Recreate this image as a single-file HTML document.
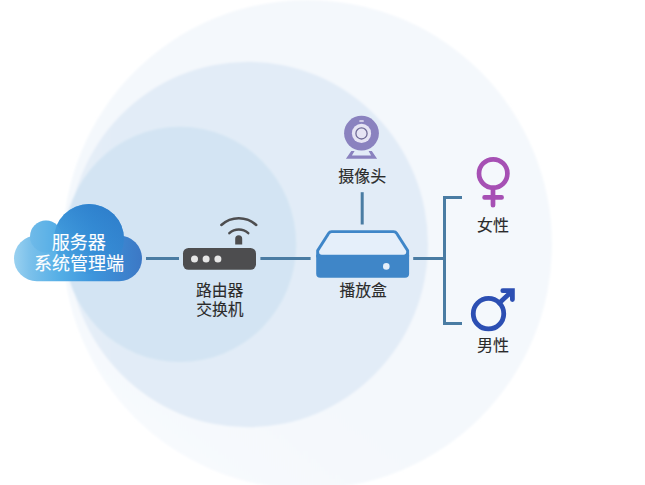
<!DOCTYPE html>
<html><head><meta charset="utf-8"><title>网络拓扑示意图</title>
<style>
html,body{margin:0;padding:0;background:#fff;}
body{width:645px;height:485px;overflow:hidden;font-family:"Liberation Sans",sans-serif;}
svg{display:block;}
</style></head><body>
<svg width="645" height="485" viewBox="0 0 645 485">
<defs>
<linearGradient id="cg" gradientUnits="userSpaceOnUse" x1="14" y1="0" x2="142" y2="0">
<stop offset="0" stop-color="#9ad1f0"/>
<stop offset="0.12" stop-color="#7cc1eb"/>
<stop offset="0.36" stop-color="#54aee6"/>
<stop offset="0.62" stop-color="#3d95dc"/>
<stop offset="1" stop-color="#3c78c5"/>
</linearGradient>
<linearGradient id="cg2" gradientUnits="userSpaceOnUse" x1="70" y1="274" x2="100" y2="204">
<stop offset="0" stop-color="#3a94da" stop-opacity="0.2"/>
<stop offset="0.5" stop-color="#3088d2" stop-opacity="0.6"/>
<stop offset="1" stop-color="#2d7ecb" stop-opacity="0.9"/>
</linearGradient>
<linearGradient id="g3" gradientUnits="userSpaceOnUse" x1="100" y1="480" x2="300" y2="200">
<stop offset="0" stop-color="#fafcfe"/><stop offset="0.3" stop-color="#f6f9fd"/><stop offset="0.6" stop-color="#f4f8fc"/>
</linearGradient>
<linearGradient id="g2" gradientUnits="userSpaceOnUse" x1="68" y1="0" x2="300" y2="0">
<stop offset="0" stop-color="#e7eff8"/><stop offset="0.2" stop-color="#e2ecf7"/><stop offset="1" stop-color="#e2ecf7"/>
</linearGradient>
<filter id="soft" x="-5%" y="-5%" width="110%" height="110%"><feGaussianBlur stdDeviation="0.8"/></filter>
</defs>

<rect width="645" height="485" fill="#ffffff"/>
<g filter="url(#soft)">
<circle cx="307.5" cy="244.5" r="244.5" fill="url(#g3)"/>
<ellipse cx="248" cy="244.5" rx="180" ry="182.8" fill="url(#g2)"/>
<ellipse cx="180" cy="244.4" rx="116.2" ry="117.7" fill="#d3e4f3"/>
</g>
<g fill="#4a7ca3">
<rect x="146" y="257" width="33" height="3"/>
<rect x="260.4" y="257" width="50.2" height="3"/>
<rect x="413.2" y="257" width="31" height="3"/>
<rect x="360.7" y="192.2" width="3" height="32.3"/>
<rect x="443" y="196" width="3" height="129"/>
<rect x="443" y="196" width="19" height="3"/>
<rect x="443" y="322" width="19" height="3"/>
</g>
<g fill="url(#cg)">
<rect x="14" y="235.6" width="128" height="45.6" rx="22.8"/>
<circle cx="89" cy="239" r="35"/>
<circle cx="46" cy="236.5" r="16"/>
</g>
<circle cx="89" cy="239" r="35" fill="url(#cg2)"/>
<circle cx="46" cy="236.5" r="16" fill="#4aa6e2" opacity="0.25"/>
<g fill="#4d4d4f">
<rect x="183" y="248" width="73" height="21.8" rx="5.5"/>
<path d="M235.2 244.5v-5.8a3.5 3.5 0 0 1 7 0v5.8z"/>
</g>
<g fill="none" stroke="#4d4d4f" stroke-width="2.5" stroke-linecap="round">
<path d="M221.37 224.98A25.8 25.8 0 0 1 256.23 224.98"/>
<path d="M229.35 233.13A14.4 14.4 0 0 1 248.25 233.13"/>
</g>
<g fill="#e6e6e6"><circle cx="194.5" cy="258.9" r="3.5"/><circle cx="206.1" cy="258.9" r="3.5"/><circle cx="217.9" cy="258.9" r="3.5"/></g>
<path fill="#3f86c8" stroke="#3f86c8" stroke-width="2.9" stroke-linejoin="round" d="M331.6 231.65h62q2 0 3 1.6l11.05 17.2v6h-90v-6l11.05-17.2q1-1.6 2.9-1.6z"/>
<path fill="#3f86c8" d="M316.2 254.7h92.9v19q0 4.1-4.1 4.1h-84.7q-4.1 0-4.1-4.1z"/>
<path fill="#e5effa" d="M332 233.1H393.2Q394.7 233.1 395.5 234.2L406.2 250.9V252Q406.2 254.7 403.5 254.7H321.8Q319.1 254.7 319.1 252V250.9L329.8 234.2Q330.6 233.1 332 233.1Z"/>
<circle cx="386.3" cy="266.4" r="3.3" fill="#e5effa"/>
<path fill="#8a82bf" d="M351.3 151.1h3.3l-2.7 4.5h19.2l-2.5-4.5h3.2l5.3 7.6h-31.2z"/>
<circle cx="361.5" cy="133.2" r="17.4" fill="#8a82bf"/>
<circle cx="361.5" cy="133.4" r="9.6" fill="#e6e4f4"/>
<circle cx="361.5" cy="133.4" r="5.6" fill="none" stroke="#6f6a96" stroke-width="1.3"/>
<rect x="359.3" y="120.2" width="4.5" height="1.6" rx=".6" fill="#e6e4f4"/>
<g fill="none" stroke="#a650b4" stroke-width="4.7" stroke-linecap="round">
<circle cx="493.2" cy="173.5" r="14.2"/>
<path d="M493 188.5V205.2M484.6 197.4H501.6"/>
</g>
<g fill="none" stroke="#2c4fb3" stroke-width="4.8" stroke-linecap="round" stroke-linejoin="miter">
<circle cx="488.5" cy="313.7" r="15.25"/>
<path d="M499.3 302.9L512 291.2M502.8 290.7h9.6v8.9"/>
</g>
<g font-family="'Liberation Sans', 'Noto Sans CJK SC', sans-serif" text-anchor="middle" fill="#ffffff" stroke="#ffffff" stroke-width="0.12" font-size="18.05">
<text x="78.8" y="248.8">服务器</text>
<text x="79.05" y="269.95">系统管理端</text>
</g>
<g font-family="'Liberation Sans', 'Noto Sans CJK SC', sans-serif" text-anchor="middle" fill="#2b2b2b" stroke="#2b2b2b" stroke-width="0.12">
<text x="219.66" y="295.7" font-size="15.8">路由器</text>
<text x="219.92" y="315.2" font-size="15.8">交换机</text>
<text x="363.14" y="295.9" font-size="15.8">播放盒</text>
<text x="362.25" y="181.7" font-size="16">摄像头</text>
<text x="493.07" y="231" font-size="16">女性</text>
<text x="493.06" y="350.8" font-size="16">男性</text>
</g>
</svg></body></html>
